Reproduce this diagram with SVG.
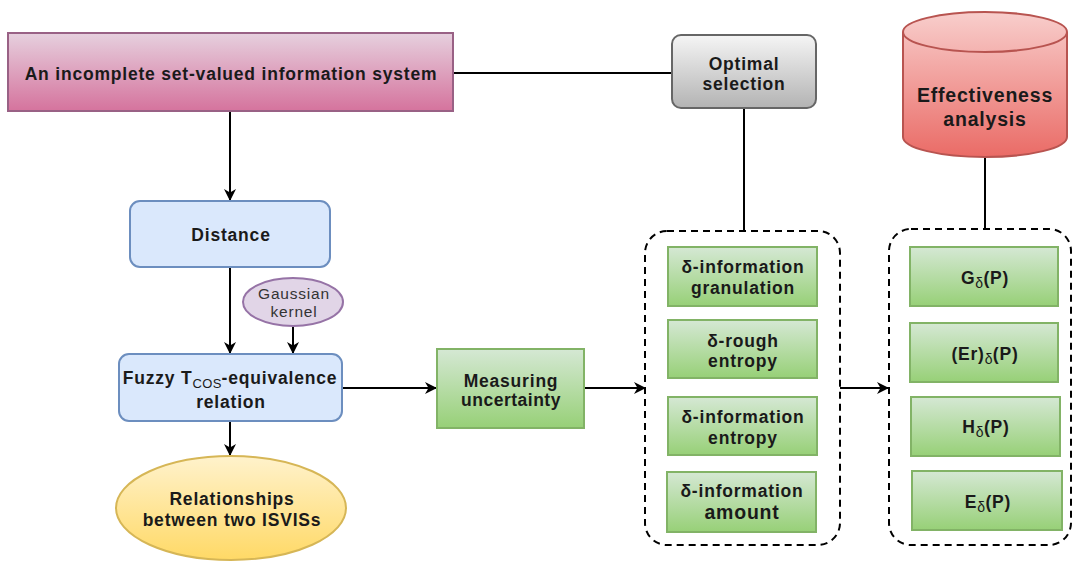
<svg xmlns="http://www.w3.org/2000/svg" width="1073" height="561" viewBox="0 0 1073 561">
<defs>
<linearGradient id="gPink" x1="0" y1="0" x2="0" y2="1"><stop offset="0" stop-color="#e6d0de"/><stop offset="1" stop-color="#d5739d"/></linearGradient>
<linearGradient id="gGray" x1="0" y1="0" x2="0" y2="1"><stop offset="0" stop-color="#f5f5f5"/><stop offset="1" stop-color="#b3b3b3"/></linearGradient>
<linearGradient id="gGreen" x1="0" y1="0" x2="0" y2="1"><stop offset="0" stop-color="#d5e8d4"/><stop offset="1" stop-color="#97d077"/></linearGradient>
<linearGradient id="gYellow" x1="0" y1="0" x2="0" y2="1"><stop offset="0" stop-color="#fff2cc"/><stop offset="1" stop-color="#ffd966"/></linearGradient>
<linearGradient id="gRed" x1="0" y1="0" x2="0" y2="1"><stop offset="0" stop-color="#f8cecc"/><stop offset="1" stop-color="#ea6b66"/></linearGradient>
<marker id="arr" viewBox="0 0 12 12" refX="11" refY="6" markerWidth="12" markerHeight="12" markerUnits="userSpaceOnUse" orient="auto">
<path d="M0,0 L12,6 L0,12 L3.5,6 Z" fill="#000"/>
</marker>
</defs>
<style>
text{font-family:"Liberation Sans",Arial,sans-serif;font-weight:bold;fill:#1a1a1a;text-anchor:middle;letter-spacing:0.8px;}
.t16{font-size:17.5px;}
.t17{font-size:17.5px;}
.sub{font-size:14px;font-weight:normal;letter-spacing:0.3px;}
.norm{font-weight:normal;font-size:15.5px;fill:#333;}
.green{fill:url(#gGreen);stroke:#82b366;stroke-width:2;}
.blue{fill:#dae8fc;stroke:#6c8ebf;stroke-width:2;}
.dash{fill:none;stroke:#000;stroke-width:2;stroke-dasharray:7 5;}
.conn{fill:none;stroke:#000;stroke-width:2;}
</style>

<g id="connectors">
<line class="conn" x1="453" y1="73" x2="672" y2="73"/>
<line class="conn" x1="744" y1="108" x2="744" y2="231"/>
<line class="conn" x1="985" y1="157" x2="985" y2="229"/>
<line class="conn" x1="230" y1="111" x2="230" y2="200" marker-end="url(#arr)"/>
<line class="conn" x1="230" y1="267" x2="230" y2="353" marker-end="url(#arr)"/>
<line class="conn" x1="293" y1="326" x2="293" y2="353" marker-end="url(#arr)"/>
<line class="conn" x1="230" y1="421" x2="230" y2="455" marker-end="url(#arr)"/>
<line class="conn" x1="342" y1="388" x2="436" y2="388" marker-end="url(#arr)"/>
<line class="conn" x1="584" y1="388" x2="645" y2="388" marker-end="url(#arr)"/>
<line class="conn" x1="840" y1="388" x2="888" y2="388" marker-end="url(#arr)"/>
</g>

<g id="info-system">
<rect x="8" y="33" width="445" height="78" fill="url(#gPink)" stroke="#996185" stroke-width="2"/>
<text class="t16" x="231" y="80">An incomplete set-valued information system</text>
</g>

<g id="optimal-selection">
<rect x="672" y="35" width="144" height="73" rx="9" fill="url(#gGray)" stroke="#666" stroke-width="2"/>
<text class="t16" x="744" y="70">Optimal</text>
<text class="t16" x="744" y="90">selection</text>
</g>

<g id="effectiveness">
<path d="M903,32 A82,20 0 0 1 1067,32 L1067,137 A82,20 0 0 1 903,137 Z" fill="url(#gRed)" stroke="#b85450" stroke-width="2"/>
<path d="M903,32 A82,20 0 0 0 1067,32" fill="none" stroke="#b85450" stroke-width="2"/>
<text x="985" y="102" style="font-size:19.5px">Effectiveness</text>
<text x="985" y="126" style="font-size:19.5px">analysis</text>
</g>

<g id="distance">
<rect class="blue" x="130" y="201" width="200" height="66" rx="10"/>
<text class="t16" x="231" y="241">Distance</text>
</g>

<g id="gaussian">
<ellipse cx="293" cy="302" rx="50" ry="24" fill="#e1d5e7" stroke="#9673a6" stroke-width="2"/>
<text class="norm" x="294" y="299">Gaussian</text>
<text class="norm" x="294" y="317">kernel</text>
</g>

<g id="fuzzy">
<rect class="blue" x="119" y="354" width="223" height="67" rx="10"/>
<text class="t16" x="230" y="384">Fuzzy T<tspan class="sub" dy="4" style="font-size:13px">COS</tspan><tspan dy="-4">-equivalence</tspan></text>
<text class="t16" x="231" y="408">relation</text>
</g>

<g id="relationships">
<ellipse cx="231" cy="508" rx="115" ry="52" fill="url(#gYellow)" stroke="#d6b656" stroke-width="2"/>
<text class="t16" x="232" y="505">Relationships</text>
<text class="t16" x="232" y="526">between two ISVISs</text>
</g>

<g id="measuring">
<rect class="green" x="437" y="349" width="147" height="79"/>
<text class="t17" x="511" y="387">Measuring</text>
<text class="t17" x="511" y="406" style="letter-spacing:0.5px">uncertainty</text>
</g>

<g id="measures-group">
<rect class="dash" x="645" y="231" width="195" height="314" rx="22"/>
</g>
<g id="granulation">
<rect class="green" x="668" y="247" width="149" height="59"/>
<text class="t16" x="743" y="273">δ-information</text>
<text class="t16" x="743" y="294">granulation</text>
</g>
<g id="rough-entropy">
<rect class="green" x="668" y="320" width="149" height="58"/>
<text class="t16" x="743" y="347">δ-rough</text>
<text class="t16" x="743" y="367">entropy</text>
</g>
<g id="info-entropy">
<rect class="green" x="668" y="397" width="149" height="58"/>
<text class="t16" x="743" y="423">δ-information</text>
<text class="t16" x="743" y="444">entropy</text>
</g>
<g id="info-amount">
<rect class="green" x="667" y="472" width="149" height="60"/>
<text class="t16" x="742" y="497">δ-information</text>
<text x="742" y="519" style="font-size:19.5px">amount</text>
</g>

<g id="results-group">
<rect class="dash" x="889" y="229" width="182" height="316" rx="22"/>
</g>
<g id="G">
<rect class="green" x="910" y="247" width="148" height="59"/>
<text class="t16" x="985" y="284">G<tspan class="sub" dy="4">δ</tspan><tspan dy="-4">(P)</tspan></text>
</g>
<g id="Er">
<rect class="green" x="910" y="323" width="148" height="59"/>
<text class="t16" x="985" y="360">(Er)<tspan class="sub" dy="4">δ</tspan><tspan dy="-4">(P)</tspan></text>
</g>
<g id="H">
<rect class="green" x="911" y="397" width="149" height="59"/>
<text class="t16" x="986" y="433">H<tspan class="sub" dy="4">δ</tspan><tspan dy="-4">(P)</tspan></text>
</g>
<g id="E">
<rect class="green" x="912" y="471" width="150" height="59"/>
<text class="t16" x="988" y="508">E<tspan class="sub" dy="4">δ</tspan><tspan dy="-4">(P)</tspan></text>
</g>
</svg>
